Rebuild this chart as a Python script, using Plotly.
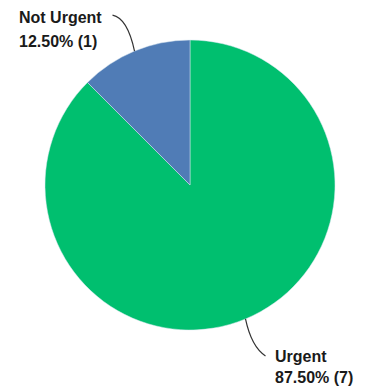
import math
import plotly.graph_objects as go

labels = ["Urgent", "Not Urgent"]
values = [7, 1]
colors = ["#00BF6F", "#507CB6"]

W, H = 368, 387
cx, cy, r = 190, 185, 145

total = sum(values)
pct = [v / total * 100 for v in values]

fig = go.Figure(go.Pie(
    labels=labels, values=values, sort=False, direction="clockwise", rotation=0,
    marker=dict(colors=colors, line=dict(width=0.5, color="#d8e6f0")),
    textinfo="none", hoverinfo="label+percent+value", showlegend=False,
    domain=dict(x=[(cx - r) / W, (cx + r) / W], y=[1 - (cy + r) / H, 1 - (cy - r) / H]),
))

def px(x):
    return x / W

def py(y):
    return 1 - y / H

# mid angles (clockwise from top)
mids = []
acc = 0
for v in values:
    mids.append((acc + v / 2) / total * 2 * math.pi)
    acc += v

def edge(a):
    return cx + r * math.sin(a), cy - r * math.cos(a)

font = dict(family="Liberation Sans", size=16, color="#1a1a1a", weight=700)

# Urgent label (bottom right)
ex, ey = edge(mids[0])
x1, y1 = ex + 20, ey + 37
path_u = f"M {px(ex)} {py(ey)} Q {px(ex + 6)} {py(ey + 28)} {px(x1)} {py(y1)}"
# Not Urgent label (top left)
nx, ny = edge(mids[1])
x2, y2 = nx - 22, ny - 36
path_n = f"M {px(nx)} {py(ny)} Q {px(nx - 7)} {py(ny - 33)} {px(x2)} {py(y2)}"

shapes = [
    dict(type="path", path=path_u, xref="paper", yref="paper", line=dict(color="#333333", width=1.2)),
    dict(type="path", path=path_n, xref="paper", yref="paper", line=dict(color="#333333", width=1.2)),
]

def label_lines(x, y_top, i, gap):
    lines = [labels[i], f"{pct[i]:.2f}% ({values[i]})"]
    return [
        dict(x=px(x), y=py(y_top + k * gap), xref="paper", yref="paper", xanchor="left",
             yanchor="middle", text=t, showarrow=False, align="left", font=font)
        for k, t in enumerate(lines)
    ]

annotations = label_lines(x1 + 8, y1 + 1, 0, 21) + label_lines(17, 18, 1, 23)

fig.update_layout(
    width=W, height=H, margin=dict(l=0, r=0, t=0, b=0),
    paper_bgcolor="white", plot_bgcolor="white",
    shapes=shapes, annotations=annotations,
)

fig.write_html("out.html")
